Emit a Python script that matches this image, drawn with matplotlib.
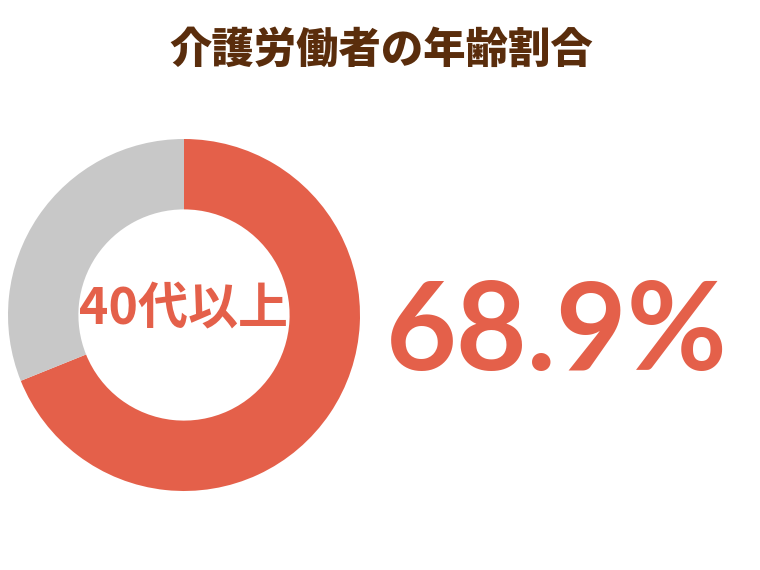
import matplotlib
matplotlib.use("Agg")
import matplotlib.pyplot as plt

plt.rcParams['font.family'] = ['Noto Sans CJK JP', 'DejaVu Sans']

title = "介護労働者の年齢割合"
labels = ["40代以上", "40代未満"]
shares = [68.9, 31.1]
colors = ["#E4604A", "#C8C8C8"]

fig = plt.figure(figsize=(7.6, 5.7), dpi=100)
fig.patch.set_facecolor("white")

# donut in pixel coordinates: centre (184, 315), outer radius 176
W, H = 760, 570
ax = fig.add_axes([8 / W, (H - 491) / H, 352 / W, 352 / H])
ax.pie(shares, colors=colors, startangle=90, counterclock=False,
       radius=1.0, wedgeprops=dict(width=0.40, edgecolor="none"))
ax.set_xlim(-1, 1)
ax.set_ylim(-1, 1)
ax.set_aspect("equal")
ax.axis("off")

ax.text(0, 0.03, labels[0], ha="center", va="center", fontsize=36,
        fontweight="bold", color=colors[0])

fig.text(381 / W, 1 - 50 / H, title, ha="center", va="center", fontsize=30.5,
         fontweight="black", color="#5A2D0C")

fig.text(557 / W, 1 - 370 / H, f"{shares[0]}%", ha="center", va="baseline",
         fontsize=88, fontweight="bold", color=colors[0],
         family=["Lato", "DejaVu Sans"])

fig.savefig("out.png", dpi=100, facecolor="white")
